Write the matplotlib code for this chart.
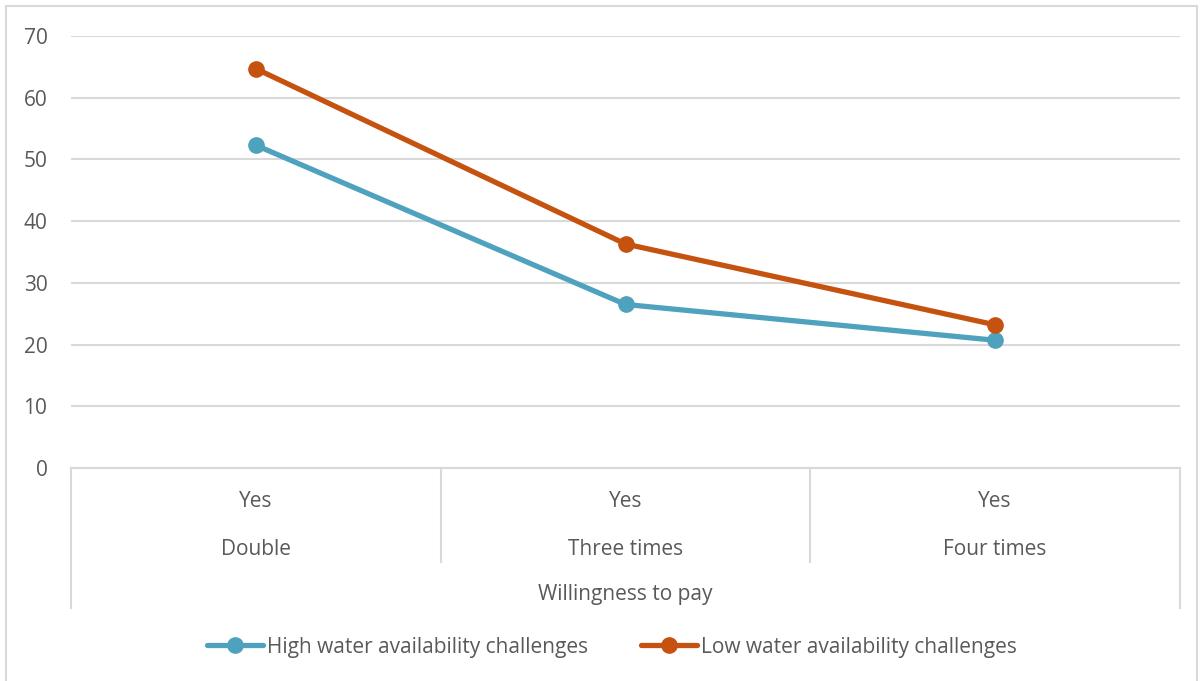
import matplotlib.pyplot as plt
from matplotlib.patches import Rectangle

plt.rcParams['font.family'] = ['Open Sans', 'DejaVu Sans']

categories = ['Double', 'Three times', 'Four times']
answer = ['Yes', 'Yes', 'Yes']
group_label = 'Willingness to pay'
high_water = [52.3, 26.5, 20.7]
low_water = [64.7, 36.3, 23.2]
yticks = [0, 10, 20, 30, 40, 50, 60, 70]

text_col = '#595959'
grid_col = '#D9D9D9'
blue = '#4EA2BE'
orange = '#C5520F'
fs = 15

fig = plt.figure(figsize=(12.02, 6.81), dpi=100)
ax = fig.add_axes([71 / 1202, 213 / 681, 1109 / 1202, 432 / 681])

x = list(range(len(categories)))
ax.plot(x, high_water, color=blue, lw=3.8, marker='o', ms=11,
        label='High water availability challenges', solid_capstyle='round', zorder=3)
ax.plot(x, low_water, color=orange, lw=3.8, marker='o', ms=11,
        label='Low water availability challenges', solid_capstyle='round', zorder=3)

ax.set_xlim(-0.5, len(categories) - 0.5)
ax.set_ylim(0, 70)
ax.set_yticks(yticks)
ax.yaxis.grid(True, color=grid_col, lw=1.5)
ax.set_axisbelow(True)
ax.tick_params(axis='y', length=0, pad=17, labelsize=fs, labelcolor=text_col)
ax.set_xticks([])
for s in ['left', 'right', 'top']:
    ax.spines[s].set_visible(False)
ax.spines['bottom'].set_color(grid_col)
ax.spines['bottom'].set_linewidth(1.5)

# two-level category axis below the plot
trans = ax.get_xaxis_transform()
for i, (a, c) in enumerate(zip(answer, categories)):
    ax.text(i, -0.077, a, transform=trans, ha='center', va='center',
            fontsize=fs, color=text_col)
    ax.text(i, -0.188, c, transform=trans, ha='center', va='center',
            fontsize=fs, color=text_col)
for b in [0.5, 1.5]:
    ax.plot([b, b], [0, -0.2176], transform=trans, color=grid_col, lw=1.5, clip_on=False)
for b in [-0.5, len(categories) - 0.5]:
    ax.plot([b, b], [0, -0.324], transform=trans, color=grid_col, lw=1.5, clip_on=False)
ax.text(1, -0.292, group_label, transform=trans, ha='center', va='center',
        fontsize=fs, color=text_col)

leg = fig.legend(loc='center', bbox_to_anchor=(612 / 1202, 1 - 647 / 681), ncol=2,
                 frameon=False, fontsize=fs, handlelength=2.7, handletextpad=0.2,
                 columnspacing=2.5)
for t in leg.get_texts():
    t.set_color(text_col)

fig.patches.append(Rectangle((6 / 1202, -0.01), 1191 / 1202, 1 - 6 / 681 + 0.01,
                             transform=fig.transFigure, fill=False,
                             edgecolor=grid_col, lw=1.5))

fig.savefig('out.png', dpi=100)
